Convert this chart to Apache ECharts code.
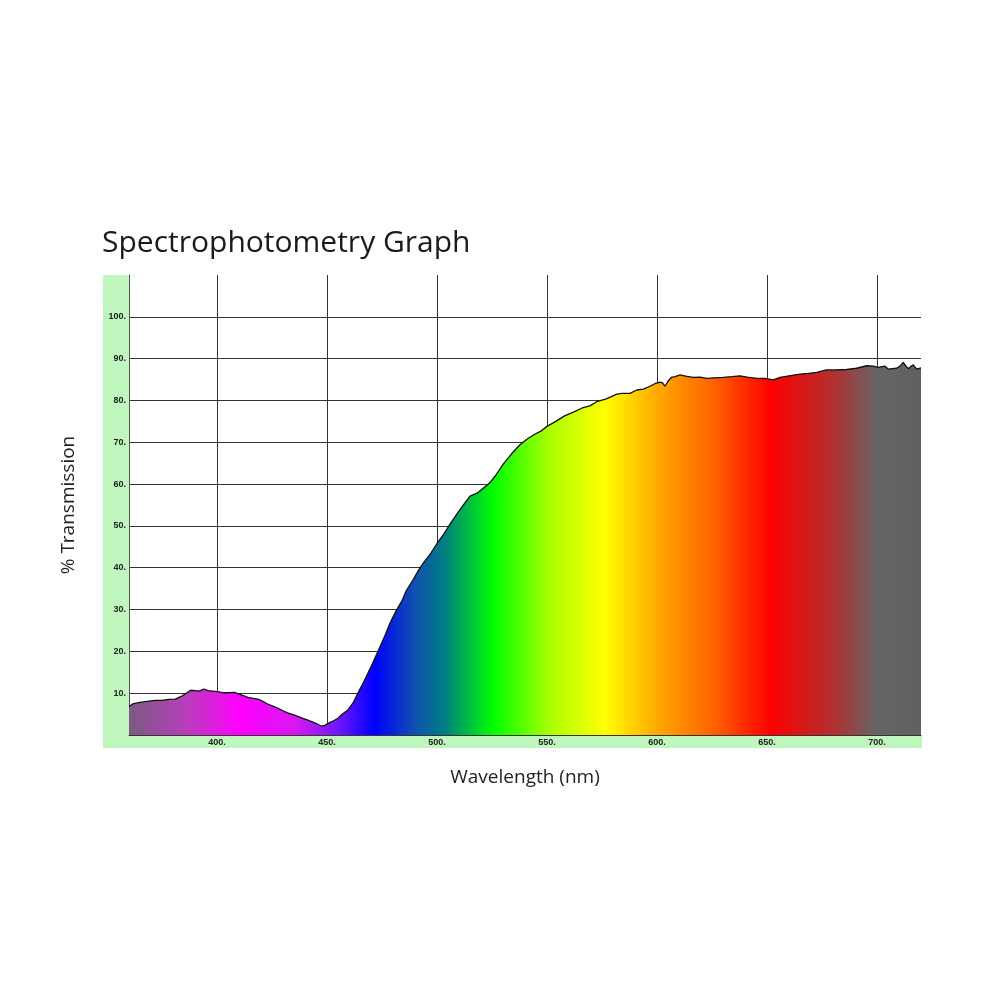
<!DOCTYPE html>
<html>
<head>
<meta charset="utf-8">
<script src="https://cdn.jsdelivr.net/npm/echarts@6/dist/echarts.min.js"></script>
<style>
  html, body { margin: 0; padding: 0; background: #fff; }
  #chart { width: 1000px; height: 1000px; }
</style>
</head>
<body>
<div id="chart"></div>
<script>
// wavelength (nm)
const wavelengths = [
    360, 362, 365, 369, 372, 375, 378, 381, 384, 386, 388, 390, 392, 394, 396, 398,
    401, 403, 405, 408, 410, 412, 414, 417, 419, 421, 423, 426, 428, 430, 432, 435,
    437, 439, 441, 443, 445, 447.5, 449, 451, 453, 455, 457, 459.5, 462, 464, 467, 470,
    474, 476.5, 478.5, 481.5, 484, 486, 489, 491.5, 494, 497, 500, 503, 506, 509, 512, 515,
    518.5, 521, 524, 527, 530, 534, 537.7, 541, 544, 547, 550, 554, 558, 562, 566, 569.5,
    573, 577, 581.7, 584, 587.7, 590.8, 593.8, 596.8, 599, 601.4, 602.5, 603.6, 605, 606.5, 608.2, 610.5,
    613, 616.5, 619.5, 622.6, 626, 630, 634, 637.7, 641, 645.3, 649, 652.9, 655.9, 660, 665, 669,
    672.6, 677, 681, 686.2, 690.7, 693, 695.3, 698.3, 700.5, 703.6, 705.1, 707, 708.9, 710.5, 711.9, 713,
    714.2, 715.5, 716.5, 718, 720
]
// % transmission at each wavelength
const transmission = [
    6.8, 7.5, 7.8, 8.1, 8.3, 8.3, 8.5, 8.6, 9.3, 10.0, 10.7, 10.6, 10.5, 11.0, 10.6, 10.5,
    10.3, 10.1, 10.1, 10.2, 9.8, 9.4, 9.0, 8.7, 8.5, 8.0, 7.4, 6.8, 6.3, 5.8, 5.3, 4.8,
    4.4, 4.0, 3.6, 3.2, 2.8, 2.1, 2.3, 2.9, 3.4, 4.0, 5.0, 6.0, 7.8, 10.0, 13.0, 16.3,
    21.0, 24.0, 26.6, 29.8, 32.0, 34.5, 37.0, 39.3, 41.3, 43.3, 45.8, 48.0, 50.5, 52.8, 55.0, 57.1,
    57.9, 59.0, 60.3, 62.3, 64.7, 67.3, 69.4, 70.8, 71.8, 72.6, 73.8, 75.0, 76.3, 77.2, 78.2, 78.7,
    79.8, 80.4, 81.5, 81.7, 81.7, 82.5, 82.7, 83.4, 84.0, 84.4, 84.2, 83.4, 84.6, 85.5, 85.7, 86.1,
    85.8, 85.5, 85.6, 85.3, 85.4, 85.5, 85.7, 85.9, 85.6, 85.3, 85.3, 84.9, 85.5, 85.9, 86.3, 86.5,
    86.7, 87.3, 87.3, 87.4, 87.7, 88.0, 88.3, 88.2, 87.9, 88.2, 87.5, 87.6, 87.7, 88.2, 89.1, 88.3,
    87.6, 88.2, 88.5, 87.5, 87.8
]
const xTicks = [400, 450, 500, 550, 600, 650, 700]
const yTicks = [10, 20, 30, 40, 50, 60, 70, 80, 90, 100]

// spectrum colours laid under the curve, from 360 to 720 nm
const spectrumStops = [
    { offset: 0.00, color: '#7a5a82' },
    { offset: 0.07, color: '#b540b8' },
    { offset: 0.14, color: '#ff00ff' },
    { offset: 0.21, color: '#d818f0' },
    { offset: 0.26, color: '#7a18ff' },
    { offset: 0.31, color: '#0000ff' },
    { offset: 0.36, color: '#1050b0' },
    { offset: 0.40, color: '#008080' },
    { offset: 0.46, color: '#00ff00' },
    { offset: 0.53, color: '#a8ff00' },
    { offset: 0.60, color: '#ffff00' },
    { offset: 0.67, color: '#ffa500' },
    { offset: 0.74, color: '#ff6000' },
    { offset: 0.81, color: '#ff0000' },
    { offset: 0.89, color: '#b03030' },
    { offset: 0.945, color: '#666666' },
    { offset: 1.00, color: '#606060' }
]

const GREEN = '#bff7bf'
const LABEL_FONT = { fontSize: 9, fontWeight: 'bold', color: '#222', fontFamily: 'Liberation Sans' }
const NAME_FONT = { fontFamily: 'Open Sans', fontSize: 19, color: '#222' }

var dom = document.getElementById('chart')
var myChart = echarts.init(dom, null, { renderer: 'canvas' })

var points = wavelengths.map((w, i) => [w, transmission[i]])

var option = {
    animation: false,
    backgroundColor: '#fff',
    title: {
        text: 'Spectrophotometry Graph',
        left: 97,
        top: 223,
        textStyle: { fontFamily: 'Open Sans', fontWeight: 'normal', fontSize: 30, color: '#1a1a1a' }
    },
    graphic: [
        // green label strips round the plot
        { type: 'rect', left: 103, top: 275, shape: { width: 26, height: 473 }, style: { fill: GREEN }, z: -10 },
        { type: 'rect', left: 103, top: 735, shape: { width: 819, height: 13 }, style: { fill: GREEN }, z: -10 }
    ],
    grid: {
        left: 129,
        right: 79,
        top: 275,
        bottom: 265
    },
    xAxis: {
        type: 'value',
        min: 360,
        max: 720,
        name: 'Wavelength (nm)',
        nameLocation: 'middle',
        nameGap: 33,
        nameTextStyle: NAME_FONT,
        axisLine: { show: true, lineStyle: { color: '#333', width: 1 } },
        axisTick: { show: false, customValues: xTicks },
        axisLabel: {
            customValues: xTicks,
            formatter: v => v + '.',
            margin: 3,
            ...LABEL_FONT
        },
        splitLine: { show: true, lineStyle: { color: '#333', width: 1 } }
    },
    yAxis: {
        type: 'value',
        min: 0,
        max: 110,
        interval: 10,
        name: '% Transmission',
        nameLocation: 'middle',
        nameGap: 51,
        nameTextStyle: NAME_FONT,
        axisLine: { show: true, lineStyle: { color: '#555', width: 1 } },
        axisTick: { show: false, customValues: yTicks },
        axisLabel: {
            customValues: yTicks,
            formatter: v => v + '.',
            margin: 3,
            ...LABEL_FONT
        },
        splitLine: { show: true, lineStyle: { color: '#333', width: 1 } }
    },
    series: [
        {
            name: 'Transmission',
            type: 'line',
            data: points,
            showSymbol: false,
            smooth: false,
            lineStyle: { color: '#111', width: 1.3 },
            areaStyle: {
                opacity: 1,
                color: new echarts.graphic.LinearGradient(0, 0, 1, 0, spectrumStops)
            },
            z: 3
        }
    ]
}

option && myChart.setOption(option)
window.addEventListener('resize', myChart.resize)
</script>
</body>
</html>
